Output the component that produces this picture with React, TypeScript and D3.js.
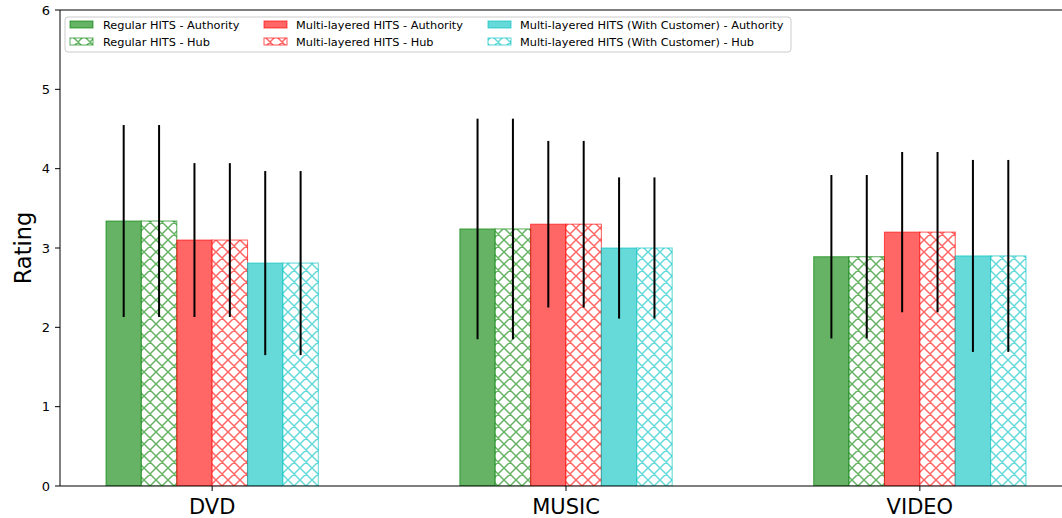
import React from "react";
import * as d3 from "d3";

const categories = ["DVD", "MUSIC", "VIDEO"];

const regularAuthority = [3.34, 3.24, 2.89];
const regularAuthorityErr = [1.21, 1.39, 1.03];
const regularHub = [3.34, 3.24, 2.89];
const regularHubErr = [1.21, 1.39, 1.03];

const multiAuthority = [3.1, 3.3, 3.2];
const multiAuthorityErr = [0.97, 1.05, 1.01];
const multiHub = [3.1, 3.3, 3.2];
const multiHubErr = [0.97, 1.05, 1.01];

const customerAuthority = [2.81, 3.0, 2.9];
const customerAuthorityErr = [1.16, 0.89, 1.21];
const customerHub = [2.81, 3.0, 2.9];
const customerHubErr = [1.16, 0.89, 1.21];

const yTicks = [0, 1, 2, 3, 4, 5, 6];

const series = [
  { name: "Regular HITS - Authority", values: regularAuthority, err: regularAuthorityErr, color: "#008000", hatch: false },
  { name: "Regular HITS - Hub", values: regularHub, err: regularHubErr, color: "#008000", hatch: true },
  { name: "Multi-layered HITS - Authority", values: multiAuthority, err: multiAuthorityErr, color: "#ff0000", hatch: false },
  { name: "Multi-layered HITS - Hub", values: multiHub, err: multiHubErr, color: "#ff0000", hatch: true },
  { name: "Multi-layered HITS (With Customer) - Authority", values: customerAuthority, err: customerAuthorityErr, color: "#00bfbf", hatch: false },
  { name: "Multi-layered HITS (With Customer) - Hub", values: customerHub, err: customerHubErr, color: "#00bfbf", hatch: true },
];

const FONT = "'DejaVu Sans', sans-serif";
const ALPHA = 0.6;
const BAR_W = 0.1;

function HatchPattern({ id, color }: { id: string; color: string }) {
  const P = 12;
  const d = `M-1,-1L${P + 1},${P + 1} M${P + 1},-1L-1,${P + 1} M-1,${P - 1}L1,${P + 1} M${P - 1},-1L${P + 1},1 M-1,1L1,-1 M${P - 1},${P + 1}L${P + 1},${P - 1}`;
  return (
    <pattern id={id} patternUnits="userSpaceOnUse" width={P} height={P}>
      <rect width={P} height={P} fill="#ffffff" />
      <path d={d} stroke={color} strokeOpacity={ALPHA} strokeWidth={1.5} fill="none" />
    </pattern>
  );
}

export default function App() {
  const W = 1062;
  const H = 518;
  const left = 60;
  const top = 10;
  const bottom = 486;
  const right = 1072;

  const x = d3.scaleLinear().domain([-0.43, 2.43]).range([left, right]);
  const y = d3.scaleLinear().domain([0, 6]).range([bottom, top]);
  const bw = x(BAR_W) - x(0);

  const patId = (c: string) => `hatch-${c.replace("#", "")}`;
  const colors = Array.from(new Set(series.map((s) => s.color)));

  const legendCols = [
    { hx: 70, tx: 103 },
    { hx: 264, tx: 296 },
    { hx: 488, tx: 520 },
  ];
  const legendRows = [24.5, 41.5];

  return (
    <svg
      width={W}
      height={H}
      style={{ position: "absolute", left: 0, top: 0, display: "block", background: "#ffffff" }}
      fontFamily={FONT}
    >
      <defs>
        {colors.map((c) => (
          <HatchPattern key={c} id={patId(c)} color={c} />
        ))}
        <clipPath id="plotclip">
          <rect x={left} y={top} width={right - left} height={bottom - top} />
        </clipPath>
      </defs>
      <rect x={0} y={0} width={W} height={H} fill="#ffffff" />

      <g clipPath="url(#plotclip)">
        {series.map((s, si) =>
          s.values.map((v, ci) => {
            const cx = ci + (si - 2.5) * BAR_W;
            const x0 = x(cx - BAR_W / 2);
            return (
              <rect
                key={`${si}-${ci}`}
                x={x0}
                y={y(v)}
                width={bw}
                height={y(0) - y(v)}
                fill={s.hatch ? `url(#${patId(s.color)})` : s.color}
                fillOpacity={s.hatch ? 1 : ALPHA}
                stroke={s.color}
                strokeOpacity={ALPHA}
                strokeWidth={1.1}
              />
            );
          })
        )}
        {series.map((s, si) =>
          s.values.map((v, ci) => {
            const cx = x(ci + (si - 2.5) * BAR_W);
            return (
              <line
                key={`e-${si}-${ci}`}
                x1={cx}
                x2={cx}
                y1={y(v + s.err[ci])}
                y2={y(v - s.err[ci])}
                stroke="#000000"
                strokeWidth={2}
              />
            );
          })
        )}
      </g>

      {/* spines */}
      <line x1={left} x2={left} y1={top} y2={bottom} stroke="#000" strokeWidth={1} />
      <line x1={left} x2={right} y1={bottom} y2={bottom} stroke="#000" strokeWidth={1} />
      <line x1={left} x2={right} y1={top} y2={top} stroke="#000" strokeWidth={1} />

      {/* y ticks */}
      {yTicks.map((t) => (
        <g key={`yt-${t}`}>
          <line x1={left - 5} x2={left} y1={y(t)} y2={y(t)} stroke="#000" strokeWidth={1} />
          <text x={left - 10} y={y(t)} dy="0.36em" textAnchor="end" fontSize={13} fill="#000">
            {t}
          </text>
        </g>
      ))}

      {/* x ticks */}
      {categories.map((c, i) => (
        <g key={`xt-${c}`}>
          <line x1={x(i)} x2={x(i)} y1={bottom} y2={bottom + 5} stroke="#000" strokeWidth={1} />
          <text x={x(i)} y={514} textAnchor="middle" fontSize={21} fill="#000">
            {c}
          </text>
        </g>
      ))}

      {/* y label */}
      <text
        transform={`translate(31,${(top + bottom) / 2}) rotate(-90)`}
        textAnchor="middle"
        fontSize={22.5}
        fill="#000"
      >
        Rating
      </text>

      {/* legend */}
      <rect x={65} y={17} width={726} height={35} rx={3} ry={3} fill="#ffffff" fillOpacity={0.8} stroke="#cccccc" strokeWidth={1} />
      {series.map((s, si) => {
        const col = legendCols[Math.floor(si / 2)];
        const ry = legendRows[si % 2];
        return (
          <g key={`lg-${si}`}>
            <rect
              x={col.hx}
              y={ry - 3.5}
              width={23}
              height={7}
              fill={s.hatch ? `url(#${patId(s.color)})` : s.color}
              fillOpacity={s.hatch ? 1 : ALPHA}
              stroke={s.color}
              strokeOpacity={ALPHA}
              strokeWidth={1.1}
            />
            <text x={col.tx} y={ry} dy="0.36em" fontSize={11.3} fill="#000">
              {s.name}
            </text>
          </g>
        );
      })}
    </svg>
  );
}
